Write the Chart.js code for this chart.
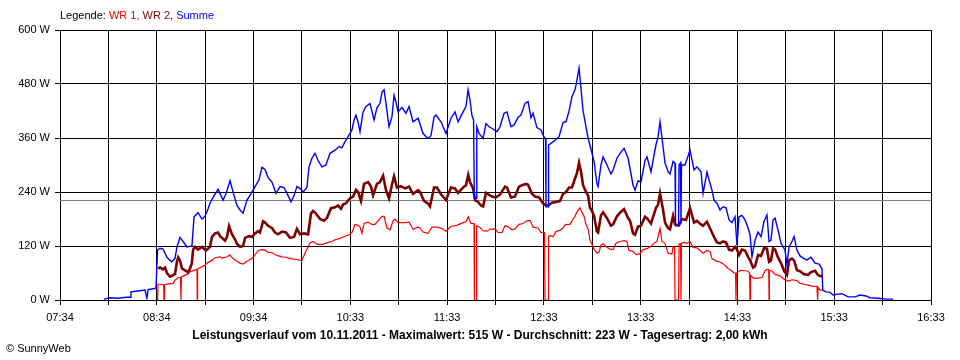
<!DOCTYPE html>
<html>
<head>
<meta charset="utf-8">
<script src="https://cdn.jsdelivr.net/npm/chart.js@4.4.1/dist/chart.umd.min.js"></script>
<style>
  html, body { margin: 0; padding: 0; background: #fff; }
  canvas { display: block; }
</style>
</head>
<body>
<canvas id="chart" width="960" height="360"></canvas>
<script>
// times are minutes after midnight, values in W
const xStart = 454;   // 07:34
const xEnd = 994;
const gridStep = 30;
const xTickLabels = ["07:34", "08:34", "09:34", "10:33", "11:33", "12:33", "13:33", "14:33", "15:33", "16:33"];
const yMax = 600;
const yStep = 120;
const average = 223;

const titleText = "Leistungsverlauf vom 10.11.2011 - Maximalwert: 515 W - Durchschnitt: 223 W - Tagesertrag: 2,00 kWh";
const seriesNames = ["WR 1", "WR 2", "Summe"];
const seriesColors = ["#ff0000", "#800000", "#0000ff"];

const summe = [[481.3,2],[485.0,5],[490.0,4],[494.9,6],[497.4,6],[498.0,18],[502.4,20],[506.7,22],[507.9,4],[508.6,23],[513.5,26],[514.5,111],[516.0,115],[517.9,113],[520.3,95],[523.1,85],[525.3,92],[526.5,118],[528.4,139],[530.3,130],[532.7,118],[535.8,120],[537.1,185],[539.6,194],[542.0,180],[543.9,186],[545.8,203],[547.0,215],[548.9,228],[552.0,246],[553.8,232],[555.1,222],[556.9,236],[559.4,265],[561.3,240],[563.7,210],[565.6,200],[567.5,193],[569.9,222],[572.4,236],[574.9,252],[577.4,267],[579.2,295],[581.1,290],[583.0,272],[585.4,262],[587.9,237],[590.4,252],[592.9,250],[595.4,232],[597.2,218],[599.1,232],[600.9,252],[602.8,248],[604.7,240],[607.1,250],[608.4,296],[610.2,315],[612.1,326],[614.0,310],[616.4,296],[618.9,300],[621.4,326],[624.5,333],[627.0,341],[628.8,338],[630.7,352],[632.6,363],[635.0,378],[636.3,400],[637.5,411],[638.8,395],[640.0,374],[641.9,418],[643.7,430],[646.2,437],[648.7,400],[650.5,427],[652.4,437],[653.6,462],[654.9,467],[656.1,437],[657.4,400],[658.0,385],[659.8,407],[661.1,455],[662.3,440],[663.6,418],[666.0,428],[668.5,415],[670.4,430],[672.9,396],[676.0,404],[679.1,370],[682.2,359],[684.0,365],[685.9,407],[687.1,411],[690.2,396],[693.3,370],[696.4,404],[698.9,418],[700.8,396],[703.9,418],[705.7,430],[707.0,467],[708.2,444],[709.4,410],[710.4,400],[710.9,226],[712.1,226],[712.4,385],[713.8,370],[716.3,359],[718.1,392],[720.0,385],[722.5,380],[724.9,374],[726.8,385],[729.3,415],[731.1,418],[733.6,385],[735.5,389],[738.0,406],[739.8,411],[742.3,437],[744.2,441],[746.0,405],[747.3,415],[749.7,383],[752.2,378],[754.1,362],[755.0,359],[755.3,207],[756.6,207],[756.9,344],[758.4,348],[760.9,355],[763.4,363],[765.9,395],[767.7,396],[769.6,420],[771.4,452],[773.3,467],[774.5,489],[775.8,515],[777.0,470],[778.3,420],[780.1,385],[781.4,360],[783.2,335],[785.1,308],[786.9,258],[787.6,252],[789.4,300],[790.7,318],[793.1,300],[795.6,280],[796.9,289],[799.3,315],[801.2,326],[803.7,337],[806.2,315],[809.3,255],[810.5,244],[812.4,265],[814.2,262],[816.7,310],[817.9,318],[820.4,285],[823.5,345],[824.8,363],[826.0,396],[827.9,340],[829.1,304],[831.0,285],[832.2,280],[834.1,308],[835.3,304],[835.6,165],[837.5,165],[837.8,300],[838.7,305],[839.0,170],[839.3,300],[841.5,300],[844.6,333],[847.1,289],[848.9,296],[851.4,285],[852.7,237],[855.1,284],[858.2,244],[859.5,222],[861.3,215],[863.2,200],[865.1,207],[866.9,205],[868.8,178],[870.6,172],[872.5,185],[873.7,122],[875.0,185],[876.8,188],[878.7,178],[880.6,160],[881.8,145],[883.0,96],[884.9,133],[886.8,151],[888.6,141],[890.5,175],[892.3,189],[893.6,130],[894.8,133],[896.1,178],[897.3,182],[899.2,155],[901.0,126],[903.5,111],[904.7,78],[906.0,118],[907.8,130],[909.1,141],[910.9,111],[912.8,98],[915.3,92],[917.1,89],[919.6,95],[922.1,82],[924.6,80],[926.4,70],[926.9,22],[928.9,18],[931.4,17],[933.3,11],[936.4,13],[938.8,14],[942.6,7],[946.9,7],[950.0,11],[953.7,9],[956.2,5],[961.2,4],[966.1,2],[970.5,2]];

const wr2 = [[514.9,70],[516.0,72],[517.9,68],[519.1,72],[520.3,60],[522.2,52],[524.1,55],[525.3,58],[526.5,85],[527.3,95],[528.4,88],[529.6,70],[531.5,66],[533.4,62],[534.6,70],[535.7,81],[536.5,112],[537.7,118],[539.6,112],[542.0,118],[544.5,110],[547.0,118],[548.2,140],[550.1,148],[552.0,150],[553.2,142],[554.4,138],[556.3,132],[557.5,140],[558.8,164],[560.6,146],[562.5,135],[563.7,125],[565.6,118],[567.5,120],[568.7,138],[571.2,142],[573.0,140],[574.9,148],[576.8,153],[578.0,150],[579.9,175],[581.1,172],[583.0,165],[585.4,160],[587.3,150],[589.2,146],[591.6,152],[594.1,150],[596.6,138],[599.1,140],[600.9,158],[602.8,146],[605.3,148],[607.8,146],[609.6,192],[610.9,198],[612.7,192],[615.2,180],[617.7,176],[619.5,182],[622.0,204],[624.5,206],[626.4,210],[628.2,203],[629.5,212],[631.3,215],[633.8,226],[635.7,230],[637.5,245],[638.8,240],[640.6,220],[642.5,258],[645.0,262],[646.8,252],[648.1,233],[650.5,258],[652.4,262],[654.3,276],[656.1,244],[658.0,226],[659.8,256],[661.1,275],[662.9,250],[665.4,253],[667.9,248],[670.4,252],[672.9,236],[676.0,244],[677.2,240],[679.7,220],[682.2,214],[683.4,208],[685.9,250],[687.7,250],[690.2,235],[693.3,222],[696.4,250],[698.9,248],[700.8,238],[703.9,250],[705.7,255],[707.1,278],[708.2,262],[710.1,248],[711.3,222],[713.2,218],[715.0,210],[716.3,208],[718.1,238],[719.4,235],[721.8,230],[724.3,228],[726.8,234],[729.9,252],[731.1,250],[733.6,228],[736.1,230],[738.6,252],[740.4,255],[742.9,258],[744.2,256],[746.6,236],[748.5,230],[751.0,228],[753.5,215],[755.3,210],[756.6,210],[759.0,216],[761.5,218],[764.0,220],[765.9,236],[767.7,240],[769.6,250],[771.4,250],[773.3,270],[774.5,282],[775.8,305],[777.0,285],[778.3,255],[780.1,240],[781.4,232],[782.6,205],[783.8,198],[785.1,187],[786.9,152],[787.6,150],[789.4,188],[790.7,195],[793.1,182],[795.6,165],[796.9,168],[799.3,186],[801.2,194],[803.7,202],[806.2,182],[807.4,176],[809.3,148],[810.5,145],[812.4,163],[814.2,165],[816.7,185],[817.9,182],[820.4,170],[823.5,205],[824.8,212],[826.0,237],[827.9,200],[829.1,172],[831.0,160],[832.2,157],[834.1,187],[835.3,168],[837.8,166],[839.6,180],[842.1,178],[844.6,204],[847.1,172],[848.9,176],[851.4,168],[852.7,165],[855.1,174],[858.2,150],[859.5,140],[861.3,128],[863.2,126],[865.1,130],[866.9,128],[868.8,112],[870.6,110],[872.5,118],[873.7,112],[875.0,100],[876.8,112],[878.7,110],[880.6,96],[881.8,88],[883.7,72],[884.9,75],[886.8,100],[888.6,98],[890.5,115],[892.3,114],[893.6,85],[894.8,88],[896.1,115],[897.3,112],[899.2,94],[901.0,82],[902.9,65],[904.7,56],[906.0,88],[907.8,92],[909.1,88],[910.9,66],[912.8,64],[915.3,57],[917.8,56],[919.6,62],[922.1,65],[924.0,55],[926.4,52]];

const wr1 = [[514.5,0],[514.8,35],[516.0,35],[518.2,34],[518.5,0],[518.8,34],[521.0,36],[524.1,37],[525.3,44],[527.2,50],[528.7,50],[529.0,0],[529.3,51],[530.3,53],[533.4,58],[534.6,63],[537.7,67],[538.9,68],[539.1,0],[539.3,69],[540.8,72],[543.9,77],[545.1,82],[548.2,88],[550.1,94],[553.2,96],[554.4,93],[557.5,96],[559.4,100],[561.3,92],[563.7,86],[565.6,82],[567.5,80],[569.9,86],[573.0,92],[574.9,100],[576.8,110],[579.2,112],[581.1,111],[583.0,106],[585.4,105],[588.5,99],[591.6,96],[594.1,95],[596.6,92],[600.9,90],[603.9,87],[605.9,104],[607.8,118],[609.0,127],[610.9,130],[613.3,124],[616.4,123],[619.5,127],[622.6,130],[624.5,134],[627.6,137],[629.5,140],[632.6,144],[635.0,150],[636.9,168],[638.8,166],[640.0,162],[641.2,148],[642.5,170],[645.0,173],[647.4,168],[649.3,168],[651.2,176],[653.6,186],[654.9,186],[656.7,160],[658.6,156],[660.5,176],[661.7,180],[663.6,172],[666.0,172],[668.5,172],[670.4,173],[672.9,157],[676.0,162],[677.2,160],[679.1,151],[682.2,148],[684.6,162],[687.7,162],[690.8,159],[693.3,153],[696.4,164],[700.1,166],[703.9,172],[705.7,174],[707.1,185],[708.8,170],[710.7,170],[710.9,0],[712.1,0],[712.3,165],[713.8,163],[716.3,154],[718.7,153],[720.6,157],[723.7,158],[725.6,150],[728.0,150],[729.9,165],[731.8,163],[734.2,156],[736.1,158],[738.6,168],[741.1,170],[743.5,176],[745.4,177],[747.3,162],[750.4,160],[752.2,150],[754.4,150],[754.7,0],[756.6,0],[756.9,142],[757.8,143],[759.7,141],[761.5,152],[764.0,155],[765.9,160],[767.1,167],[769.0,168],[770.2,168],[772.1,180],[773.3,186],[774.5,196],[776.4,205],[777.6,195],[778.9,186],[780.1,168],[781.4,158],[782.6,132],[783.8,124],[785.1,113],[786.9,104],[788.2,106],[789.4,122],[790.7,125],[793.1,117],[795.0,113],[796.9,112],[798.7,126],[801.2,130],[803.7,132],[805.5,130],[806.8,110],[809.3,108],[811.1,101],[813.6,103],[815.5,112],[817.9,114],[819.8,118],[822.9,128],[824.1,130],[826.0,159],[827.2,130],[829.1,126],[831.0,104],[833.4,102],[834.1,118],[835.0,118],[835.3,0],[837.5,0],[837.8,125],[838.7,125],[839.0,0],[839.3,126],[840.9,128],[842.7,126],[844.6,130],[846.5,117],[848.9,116],[850.8,110],[852.7,104],[855.1,110],[857.0,108],[858.2,92],[860.7,87],[862.6,85],[864.4,82],[866.3,77],[868.2,70],[870.0,66],[871.9,60],[872.8,60],[873.1,0],[873.4,60],[875.0,64],[876.2,66],[878.7,65],[880.6,64],[881.5,60],[881.8,0],[882.1,55],[883.7,49],[886.1,48],[889.2,50],[891.1,65],[892.3,68],[893.4,68],[893.6,0],[893.8,65],[895.4,65],[897.3,57],[900.4,54],[902.9,46],[905.4,42],[907.8,45],[910.9,43],[912.8,37],[915.3,35],[917.8,33],[920.2,31],[923.3,30],[923.7,0],[924.0,28],[925.2,22],[926.4,22]];

const FONT = '"Liberation Sans", Arial, sans-serif';

function toPoints(pairs) {
    return pairs.map(p => ({ x: p[0], y: p[1] }));
}

/* =========================
   AVERAGE LINE + TEXTS
========================= */

const averageLine = {
    id: "averageLine",
    beforeDatasetsDraw(chart) {
        const { ctx, chartArea } = chart;
        const y = Math.round(chart.scales.y.getPixelForValue(average)) + 0.5;
        ctx.save();
        ctx.strokeStyle = "#808080";
        ctx.lineWidth = 1;
        ctx.beginPath();
        ctx.moveTo(chartArea.left, y);
        ctx.lineTo(chartArea.right, y);
        ctx.stroke();
        ctx.restore();
    }
};

const texts = {
    id: "texts",
    afterDraw(chart) {
        const ctx = chart.ctx;
        const area = chart.chartArea;
        ctx.save();
        ctx.textBaseline = "middle";

        // legend line above the plot
        ctx.font = "11px " + FONT;
        let x = area.left;
        const parts = [["Legende: ", "#000"],
            [seriesNames[0] + ", ", seriesColors[0]],
            [seriesNames[1] + ", ", seriesColors[1]],
            [seriesNames[2], seriesColors[2]]];
        parts.forEach(p => {
            ctx.fillStyle = p[1];
            ctx.fillText(p[0], x, 16);
            x += ctx.measureText(p[0]).width;
        });

        // title under the axis
        ctx.font = "bold 12px " + FONT;
        ctx.fillStyle = "#000";
        ctx.textAlign = "center";
        ctx.fillText(titleText, 480, 336);

        ctx.font = "11px " + FONT;
        ctx.textAlign = "left";
        ctx.fillText("\u00a9 SunnyWeb", 6, 349);
        ctx.restore();
    }
};

new Chart(document.getElementById("chart").getContext("2d"), {
    type: "line",
    data: {
        datasets: [
            { label: seriesNames[2], data: toPoints(summe), borderColor: seriesColors[2], borderWidth: 1.4 },
            { label: seriesNames[1], data: toPoints(wr2), borderColor: seriesColors[1], borderWidth: 2.6 },
            { label: seriesNames[0], data: toPoints(wr1), borderColor: seriesColors[0], borderWidth: 1.2 }
        ]
    },
    options: {
        responsive: false,
        animation: false,
        events: [],
        layout: { padding: { top: 30, right: 29, bottom: 0, left: 0 } },
        elements: {
            point: { radius: 0 },
            line: { tension: 0, fill: false }
        },
        scales: {
            x: {
                type: "linear",
                min: xStart,
                max: xEnd,
                afterBuildTicks(scale) {
                    const ticks = [];
                    for (let v = xStart; v <= xEnd; v += gridStep) ticks.push({ value: v });
                    scale.ticks = ticks;
                },
                afterFit(scale) { scale.height = 60; },
                grid: { color: "#000", lineWidth: 1, tickLength: 5, drawTicks: true },
                border: { color: "#000", width: 1 },
                ticks: {
                    autoSkip: false,
                    maxRotation: 0,
                    padding: 6,
                    color: "#000",
                    font: { family: FONT, size: 11 },
                    callback: (value, index) => index % 2 === 0 ? xTickLabels[index / 2] : ""
                }
            },
            y: {
                min: 0,
                max: yMax,
                afterFit(scale) { scale.width = 60; },
                grid: { color: "#000", lineWidth: 1, tickLength: 5, drawTicks: true },
                border: { color: "#000", width: 1 },
                ticks: {
                    stepSize: yStep,
                    padding: 5,
                    color: "#000",
                    font: { family: FONT, size: 11 },
                    callback: v => v + " W"
                }
            }
        },
        plugins: {
            legend: { display: false },
            title: { display: false },
            tooltip: { enabled: false }
        }
    },
    plugins: [averageLine, texts]
});
</script>
</body>
</html>
